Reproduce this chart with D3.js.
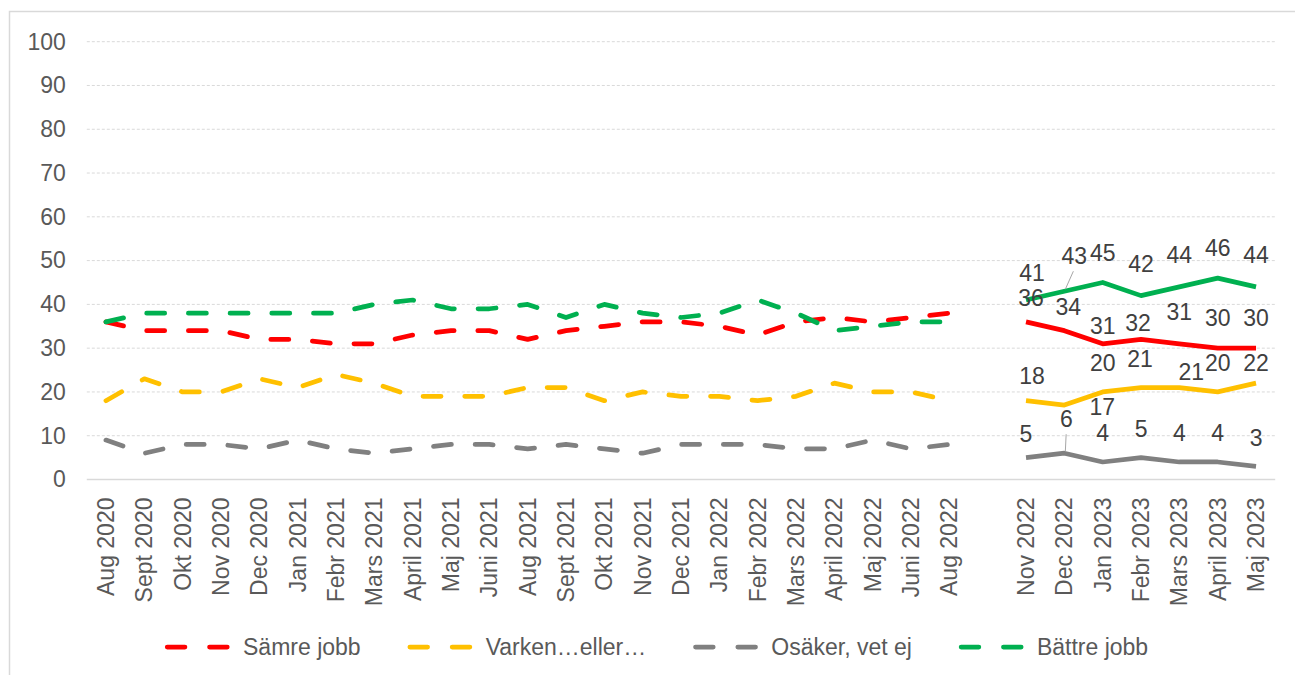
<!DOCTYPE html>
<html>
<head>
<meta charset="utf-8">
<script src="https://cdn.jsdelivr.net/npm/d3@7"></script>
<style>
  body { margin: 0; background: #fff; }
  svg text { font-family: "Liberation Sans", Arial, sans-serif; }
</style>
</head>
<body>
<svg id="chart" width="1295" height="675"></svg>
<script>
// categories (blank slot = gap between the two periods)
const categories = ["Aug 2020", "Sept 2020", "Okt 2020", "Nov 2020", "Dec 2020", "Jan 2021", "Febr 2021",
  "Mars 2021", "April 2021", "Maj 2021", "Juni 2021", "Aug 2021", "Sept 2021", "Okt 2021", "Nov 2021",
  "Dec 2021", "Jan 2022", "Febr 2022", "Mars 2022", "April 2022", "Maj 2022", "Juni 2022", "Aug 2022",
  "", "Nov 2022", "Dec 2022", "Jan 2023", "Febr 2023", "Mars 2023", "April 2023", "Maj 2023"];

// first period (dashed)
const samreEarly = [36, 34, 34, 34, 32, 32, 31, 31, 33, 34, 34, 32, 34, 35, 36, 36, 35, 33, 36, 37, 36, 37, 38];
const varkenEarly = [18, 23, 20, 20, 23, 21, 24, 22, 19, 19, 19, 21, 21, 18, 20, 19, 19, 18, 19, 22, 20, 20, 18];
const osakerEarly = [9, 6, 8, 8, 7, 9, 7, 6, 7, 8, 8, 7, 8, 7, 6, 8, 8, 8, 7, 7, 9, 7, 8];
const battreEarly = [36, 38, 38, 38, 38, 38, 38, 40, 41, 39, 39, 40, 37, 40, 38, 37, 38, 41, 38, 34, 35, 36, 36];

// second period (solid, labelled)
const samreLate = [36, 34, 31, 32, 31, 30, 30];
const varkenLate = [18, 17, 20, 21, 21, 20, 22];
const osakerLate = [5, 6, 4, 5, 4, 4, 3];
const battreLate = [41, 43, 45, 42, 44, 46, 44];

const yTicks = [0, 10, 20, 30, 40, 50, 60, 70, 80, 90, 100];
const legendNames = ["Sämre jobb", "Varken…eller…", "Osäker, vet ej", "Bättre jobb"];

// label nudges [dx, dy] for the data labels
const samreNudge = [[5, -24], [4, -24], [0, -18], [-3, -16], [0, -32], [0, -30], [0, -30]];
const varkenNudge = [[6, -25], [38, 2], [0, -29], [-1, -29], [12, -16], [0, -29], [0, -20]];
const osakerNudge = [[0, -24], [2, -34], [0, -29], [0, -29], [0, -29], [0, -29], [0, -28]];
const battreNudge = [[6, -27], [10, -35], [0, -30], [0, -32], [0, -32], [0, -30], [0, -32]];

const lateStart = categories.indexOf("Nov 2022");

const series = [
  { name: legendNames[0], color: "#ff0000", early: samreEarly, late: samreLate, nudge: samreNudge },
  { name: legendNames[1], color: "#ffc000", early: varkenEarly, late: varkenLate, nudge: varkenNudge },
  { name: legendNames[2], color: "#808080", early: osakerEarly, late: osakerLate, nudge: osakerNudge },
  { name: legendNames[3], color: "#00b050", early: battreEarly, late: battreLate, nudge: battreNudge }
];

const svg = d3.select("#chart");

// chart frame
svg.append("rect")
  .attr("x", 9.5).attr("y", 11.5)
  .attr("width", 1300).attr("height", 680)
  .attr("fill", "#fff")
  .attr("stroke", "#d9d9d9")
  .attr("stroke-width", 1.5);

const plot = { left: 86.8, right: 1275.2, top: 41.7, bottom: 479.5 };

const x = d3.scalePoint()
  .domain(d3.range(categories.length))
  .range([plot.left, plot.right])
  .padding(0.5);

const y = d3.scaleLinear().domain([0, 100]).range([plot.bottom, plot.top]);

// gridlines
svg.append("g")
  .selectAll("line")
  .data(yTicks.filter(d => d > 0))
  .enter().append("line")
  .attr("x1", plot.left).attr("x2", plot.right)
  .attr("y1", d => y(d)).attr("y2", d => y(d))
  .attr("stroke", "#d9d9d9")
  .attr("stroke-width", 1)
  .attr("stroke-dasharray", "3,2");

// y axis labels
const yAxis = svg.append("g")
  .attr("transform", `translate(${plot.left},0)`)
  .call(d3.axisLeft(y).tickValues(yTicks).tickSize(0).tickPadding(21));
yAxis.select(".domain").remove();
yAxis.selectAll("text")
  .attr("fill", "#595959")
  .style("font-size", "23px")
  .style("font-family", "'Liberation Sans', Arial, sans-serif");

// baseline
svg.append("line")
  .attr("x1", plot.left).attr("x2", plot.right)
  .attr("y1", y(0)).attr("y2", y(0))
  .attr("stroke", "#d9d9d9")
  .attr("stroke-width", 1.5);

// x axis labels, rotated
svg.append("g")
  .selectAll("text")
  .data(categories.map((c, i) => ({ c, i })).filter(d => d.c !== ""))
  .enter().append("text")
  .attr("transform", d => `translate(${x(d.i)},${plot.bottom + 18}) rotate(-90)`)
  .attr("dy", "0.35em")
  .attr("text-anchor", "end")
  .attr("fill", "#595959")
  .style("font-size", "23px")
  .text(d => d.c);

const line = d3.line()
  .x(d => x(d.i))
  .y(d => y(d.v));

// dashed first period
series.forEach(s => {
  svg.append("path")
    .datum(s.early.map((v, i) => ({ i, v })))
    .attr("d", line)
    .attr("fill", "none")
    .attr("stroke", s.color)
    .attr("stroke-width", 4.75)
    .attr("stroke-linecap", "round")
    .attr("stroke-linejoin", "round")
    .attr("stroke-dasharray", "18,23.7");
});

// solid second period
series.forEach(s => {
  svg.append("path")
    .datum(s.late.map((v, k) => ({ i: lateStart + k, v })))
    .attr("d", line)
    .attr("fill", "none")
    .attr("stroke", s.color)
    .attr("stroke-width", 4.75)
    .attr("stroke-linejoin", "round");
});

// leader lines for the two shifted labels
const leaders = [
  { s: 3, k: 1 },
  { s: 2, k: 1 }
];
leaders.forEach(l => {
  const s = series[l.s];
  const px = x(lateStart + l.k), py = y(s.late[l.k]);
  const [dx, dy] = s.nudge[l.k];
  svg.append("line")
    .attr("x1", px + dx * 0.9).attr("y1", py + dy + 15)
    .attr("x2", px + 1).attr("y2", py - 2)
    .attr("stroke", "#a6a6a6")
    .attr("stroke-width", 1);
});

// data labels
series.forEach(s => {
  svg.append("g")
    .selectAll("text")
    .data(s.late.map((v, k) => ({ i: lateStart + k, v, n: s.nudge[k] })))
    .enter().append("text")
    .attr("x", d => x(d.i) + d.n[0])
    .attr("y", d => y(d.v) + d.n[1])
    .attr("dy", "0.35em")
    .attr("text-anchor", "middle")
    .attr("fill", "#404040")
    .style("font-size", "23px")
    .text(d => d.v);
});

// legend
const legend = svg.append("g").attr("transform", "translate(165,647)");
let lx = 0;
series.forEach(s => {
  const item = legend.append("g").attr("transform", `translate(${lx},0)`);
  item.append("line")
    .attr("x1", 2.25).attr("x2", 62.25)
    .attr("y1", 0).attr("y2", 0)
    .attr("stroke", s.color)
    .attr("stroke-width", 4.75)
    .attr("stroke-linecap", "round")
    .attr("stroke-dasharray", "17.7,24.6");
  const t = item.append("text")
    .attr("x", 78)
    .attr("dy", "0.35em")
    .attr("fill", "#595959")
    .style("font-size", "23px")
    .text(s.name);
  lx += 78 + t.node().getComputedTextLength() + 47;
});
</script>
</body>
</html>
